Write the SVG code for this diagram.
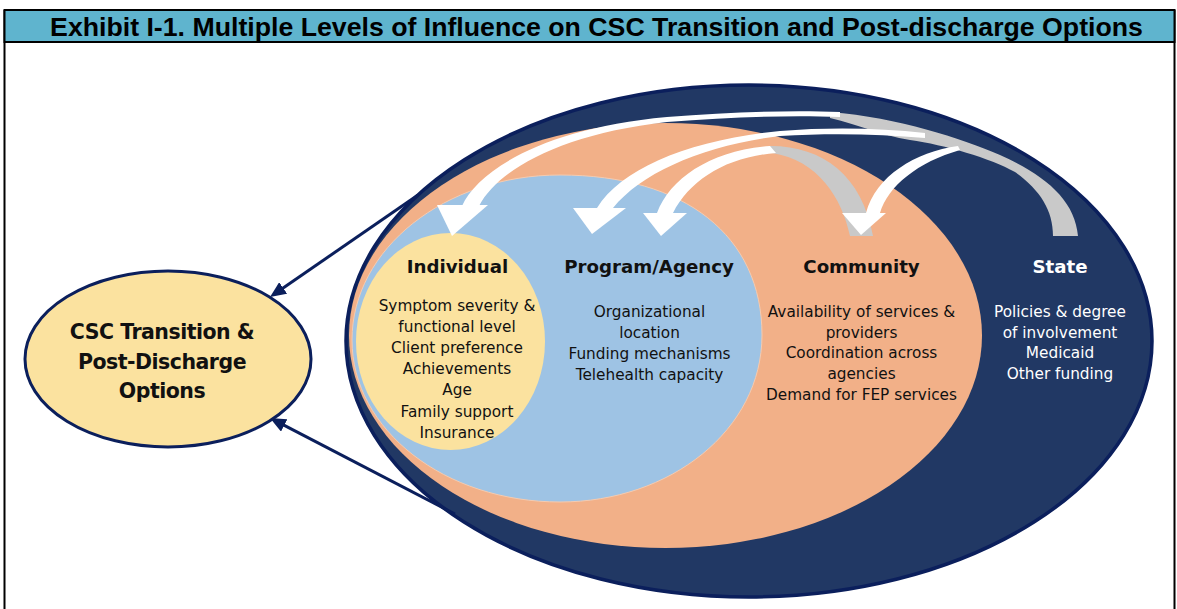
<svg xmlns="http://www.w3.org/2000/svg" width="1177" height="609" viewBox="0 0 1177 609">
<defs>
<style>
.body{font-family:"DejaVu Sans","Noto Sans",sans-serif;font-size:15.3px;fill:#111;text-anchor:middle}
.head{font-family:"DejaVu Sans","Noto Sans",sans-serif;font-size:18.2px;font-weight:bold;fill:#111;text-anchor:middle}
.big{font-family:"DejaVu Sans","Noto Sans",sans-serif;font-size:20.5px;font-weight:bold;fill:#111;text-anchor:middle;letter-spacing:-0.5px}
.white{fill:#fff}
.conn{fill:none;stroke:#0B1F5C;stroke-width:3}
.rib{fill:#fff}
.tail{fill:#C9C9C9}
</style>
<marker id="ah" viewBox="0 0 16 14" markerWidth="16" markerHeight="14" refX="8" refY="7" orient="auto" markerUnits="userSpaceOnUse">
<path d="M0,0 L16,7 L0,14 Z" fill="#0B1F5C"/>
</marker>
</defs>
<rect width="1177" height="609" fill="#fff"/>
<g id="frame">
<line x1="4.5" y1="10" x2="4.5" y2="609" stroke="#000" stroke-width="2"/>
<line x1="1174.5" y1="10" x2="1174.5" y2="609" stroke="#000" stroke-width="2"/>
<rect x="4.5" y="10" width="1170" height="32" fill="#5FB4CE" stroke="#000" stroke-width="2"/>
<text x="596.5" y="35.5" font-family="'Liberation Sans',Arial,sans-serif" font-size="26.7" font-weight="bold" text-anchor="middle" fill="#000">Exhibit I-1. Multiple Levels of Influence on CSC Transition and Post-discharge Options</text>
</g>
<g id="state">
<ellipse cx="749" cy="341" rx="403" ry="256" fill="#213864" stroke="#0B1F5C" stroke-width="3.5"/>
</g>
<g id="community">
<ellipse cx="665.5" cy="335.5" rx="316.5" ry="212.5" fill="#F2B088"/>
</g>
<g id="program">
<path d="M352 340 C352 249 445 175 560 175 C685 175 762 236 762 335 C762 430 670 502 560 502 C445 502 352 430 352 340 Z" fill="#9EC3E4" stroke="#F5CBB0" stroke-width="1"/>
</g>
<g id="individual">
<ellipse cx="450.5" cy="341.5" rx="94.5" ry="108.5" fill="#FBE29F"/>
</g>
<g id="connectors">
<line class="conn" x1="418" y1="195" x2="276.6" y2="292.5" marker-end="url(#ah)"/>
<line class="conn" x1="455" y1="514" x2="277.1" y2="421.7" marker-end="url(#ah)"/>
<path class="tail" d="M830 112 C900 118 960 138 1000 155 C1045 175 1075 200 1078 236 L1053 236 C1053 210 1040 190 1015 172 C990 158 945 145 910 140 C880 135 860 125 830 118 Z"/>
<path class="rib" d="M462 206 C478 170 545 128 667 117 C730 112 790 110 840 112 L840 117 C790 115 730 117 667 122 C560 134 498 170 479 206 Z"/>
<path class="rib" d="M437 205 L488 205 L452 236 Z"/>
<path class="rib" d="M597 208 C622 168 690 140 780 131 C830 127 880 128 925 133 L925 138 C880 134 830 133 780 136 C705 145 642 172 613 208 Z"/>
<path class="rib" d="M573 208 L626 208 L592 234 Z"/>
<path class="tail" d="M768 146 C822 145 862 175 873 236 L850 236 C842 198 818 160 772 153 Z"/>
<path class="rib" d="M657 213 C670 178 712 150 770 146 L776 153 C726 157 690 180 673 213 Z"/>
<path class="rib" d="M643 213 L687 213 L661 236 Z"/>
<path class="rib" d="M958 146 C915 152 876 176 866 213 L880 213 C888 186 918 162 960 150 Z"/>
<path class="rib" d="M842 213 L886 213 L861 235 Z"/>
</g>
<g id="outcome">
<ellipse cx="168" cy="359" rx="143" ry="88" fill="#FBE29F" stroke="#0B1F5C" stroke-width="3"/>
<text class="big" x="162" y="339">CSC Transition &amp;</text>
<text class="big" x="162" y="368.5">Post-Discharge</text>
<text class="big" x="162" y="398">Options</text>
</g>
<g id="individual-text">
<text class="head" x="457.5" y="273">Individual</text>
<text class="body" x="457" y="310.5">Symptom severity &amp;</text>
<text class="body" x="457" y="331.7">functional level</text>
<text class="body" x="457" y="353">Client preference</text>
<text class="body" x="457" y="374">Achievements</text>
<text class="body" x="457" y="395">Age</text>
<text class="body" x="457" y="416.5">Family support</text>
<text class="body" x="457" y="437.5">Insurance</text>
</g>
<g id="program-text">
<text class="head" x="649" y="273">Program/Agency</text>
<text class="body" x="649.5" y="317.3">Organizational</text>
<text class="body" x="649.5" y="338">location</text>
<text class="body" x="649.5" y="359">Funding mechanisms</text>
<text class="body" x="649.5" y="379.5">Telehealth capacity</text>
</g>
<g id="community-text">
<text class="head" x="861.5" y="273">Community</text>
<text class="body" x="861.5" y="316.7">Availability of services &amp;</text>
<text class="body" x="861.5" y="337.5">providers</text>
<text class="body" x="861.5" y="358.3">Coordination across</text>
<text class="body" x="861.5" y="379">agencies</text>
<text class="body" x="861.5" y="400">Demand for FEP services</text>
</g>
<g id="state-text">
<text class="head white" x="1060" y="273">State</text>
<text class="body white" x="1060" y="316.7">Policies &amp; degree</text>
<text class="body white" x="1060" y="337.5">of involvement</text>
<text class="body white" x="1060" y="358.3">Medicaid</text>
<text class="body white" x="1060" y="379">Other funding</text>
</g>
</svg>
